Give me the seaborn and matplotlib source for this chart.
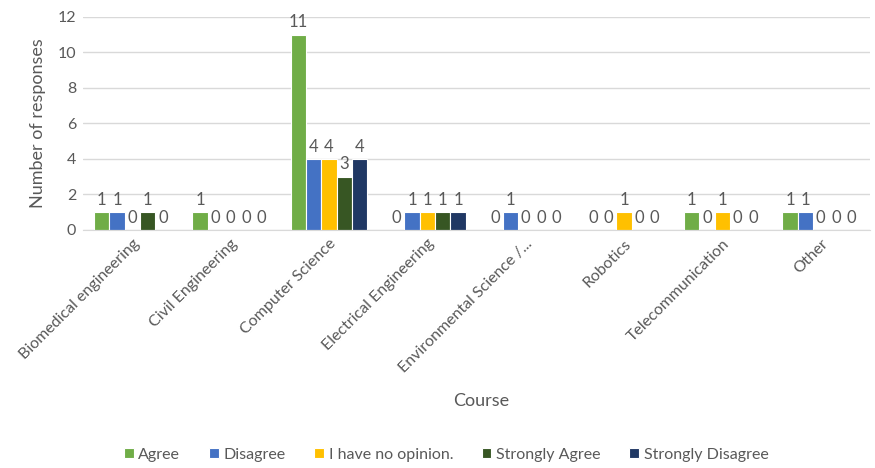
import pandas as pd
import numpy as np
import matplotlib
matplotlib.use("Agg")
import matplotlib.pyplot as plt
import seaborn as sns

# Chart data
courses = ["Biomedical engineering", "Civil Engineering", "Computer Science",
           "Electrical Engineering", "Environmental Science /...", "Robotics",
           "Telecommunication", "Other"]
responses = ["Agree", "Disagree", "I have no opinion.", "Strongly Agree", "Strongly Disagree"]
agree = [1, 1, 11, 0, 0, 0, 1, 1]
disagree = [1, 0, 4, 1, 1, 0, 0, 1]
no_opinion = [0, 0, 4, 1, 0, 1, 1, 0]
strongly_agree = [1, 0, 3, 1, 0, 0, 0, 0]
strongly_disagree = [0, 0, 4, 1, 0, 0, 0, 0]
colors = ["#70AD47", "#4472C4", "#FFC000", "#375623", "#203864"]

# Build long table for seaborn
series = [agree, disagree, no_opinion, strongly_agree, strongly_disagree]
rows = []
for resp, vals in zip(responses, series):
    for course, v in zip(courses, vals):
        rows.append({"Course": course, "Response": resp, "Count": v})
df = pd.DataFrame(rows)

sns.set_style("white")
plt.rcParams["font.family"] = ["Lato", "DejaVu Sans"]
text_col = "#595959"

fig = plt.figure(figsize=(8.75, 4.68), dpi=100)
ax = fig.add_axes([0.095, 0.509, 0.899, 0.455])

sns.barplot(data=df, x="Course", y="Count", hue="Response", order=courses,
            hue_order=responses, palette=colors, saturation=1, width=0.78,
            edgecolor="white", linewidth=0.8, ax=ax)

for cont in ax.containers:
    ax.bar_label(cont, padding=3, fontsize=12, color=text_col)

ax.set_ylim(0, 12)
ax.set_yticks(range(0, 13, 2))
ax.yaxis.grid(True, color="#D9D9D9", linewidth=1)
ax.set_axisbelow(True)
for s in ["left", "right", "top"]:
    ax.spines[s].set_visible(False)
ax.spines["bottom"].set_color("#D9D9D9")
ax.tick_params(axis="both", length=0, labelsize=11.5, colors=text_col, pad=5)
plt.setp(ax.get_xticklabels(), rotation=45, ha="right", rotation_mode="anchor")
ax.set_xlim(-0.5, len(courses) - 0.5)

ax.set_ylabel("Number of responses", fontsize=13, color=text_col, labelpad=8)
ax.set_xlabel("")
fig.text(0.55, 0.143, "Course", ha="center", va="center", fontsize=13, color=text_col)

ax.legend_.remove()
handles, labels = ax.get_legend_handles_labels()
fig.legend(handles, labels, loc="center", bbox_to_anchor=(0.51, 0.028), ncol=5,
           frameon=False, fontsize=11.5, handlelength=0.6, handleheight=0.6,
           handletextpad=0.3, columnspacing=1.8, labelcolor=text_col)

fig.savefig("out.png", dpi=100)
